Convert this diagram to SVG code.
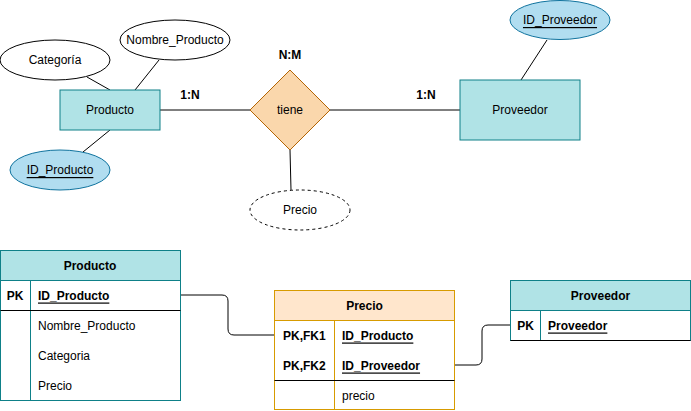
<svg xmlns="http://www.w3.org/2000/svg" width="691" height="411" viewBox="0 0 691 411">
<style>
text{font-family:"Liberation Sans",Arial,sans-serif;font-size:12px;fill:#000}
.c{text-anchor:middle;dominant-baseline:central}
.l{dominant-baseline:central}
.b{font-weight:bold}
.u{text-decoration:underline}
.ent{fill:#b0e3e6;stroke:#0e8088;stroke-width:1}
.key{fill:#b1ddf0;stroke:#10739e;stroke-width:1}
.attr{fill:#fff;stroke:#000;stroke-width:1}
.ln{fill:none;stroke:#000;stroke-width:1}
.org{fill:#ffe6cc;stroke:#d79b00;stroke-width:1}
</style>
<rect width="691" height="411" fill="#fff"/>
<g id="connectors">
<line class="ln" x1="87" y1="77" x2="110" y2="90"/>
<line class="ln" x1="159" y1="60" x2="135" y2="90"/>
<line class="ln" x1="110" y1="130" x2="83" y2="152"/>
<line class="ln" x1="160" y1="110" x2="250" y2="110"/>
<line class="ln" x1="330" y1="110" x2="460" y2="110"/>
<line class="ln" x1="290" y1="150" x2="291" y2="190"/>
<line class="ln" x1="547" y1="40" x2="521" y2="80"/>
<path class="ln" d="M180 295 H222 Q228 295 228 301 V329 Q228 335 234 335 H275"/>
<path class="ln" d="M455 365 H476 Q482 365 482 359 V331 Q482 325 488 325 H510"/>
</g>
<g id="categoria"><ellipse class="attr" cx="55" cy="60" rx="55" ry="20"/><text class="c" x="55" y="60">Categoría</text></g>
<g id="nombre_producto"><ellipse class="attr" cx="175" cy="40" rx="55" ry="20"/><text class="c" x="175" y="40">Nombre_Producto</text></g>
<g id="producto"><rect class="ent" x="60" y="90" width="100" height="40"/><text class="c" x="110" y="110">Producto</text></g>
<g id="id_producto"><ellipse class="key" cx="60" cy="170" rx="50" ry="20"/><text class="c u" x="60" y="170">ID_Producto</text></g>
<g id="tiene"><polygon points="290,70 330,110 290,150 250,110" fill="#fad7ac" stroke="#b46504"/><text class="c" x="290" y="110">tiene</text></g>
<g id="precio_attr"><ellipse class="attr" cx="300" cy="210" rx="50" ry="20" stroke-dasharray="3 3"/><text class="c" x="300" y="210">Precio</text></g>
<g id="proveedor"><rect class="ent" x="460" y="80" width="120" height="60"/><text class="c" x="520" y="110">Proveedor</text></g>
<g id="id_proveedor"><ellipse class="key" cx="560" cy="20" rx="50" ry="19.5"/><text class="c u" x="560" y="20">ID_Proveedor</text></g>
<g id="labels">
<text class="c b" x="290" y="55">N:M</text>
<text class="c b" x="190" y="95">1:N</text>
<text class="c b" x="426" y="95">1:N</text>
</g>
<g id="tabla_producto">
<rect x="0.5" y="250.5" width="180" height="150" fill="#fff" stroke="#0e8088"/>
<rect x="0.5" y="250.5" width="180" height="30" fill="#b0e3e6" stroke="#0e8088"/>
<line x1="30.5" y1="280.5" x2="30.5" y2="400.5" stroke="#0e8088"/>
<line x1="0.5" y1="310.5" x2="180.5" y2="310.5" stroke="#000"/>
<text class="c b" x="90" y="265.5">Producto</text>
<text class="c b" x="15" y="295.5">PK</text>
<text class="l b u" x="38" y="295.5">ID_Producto</text>
<text class="l" x="38" y="325.5">Nombre_Producto</text>
<text class="l" x="38" y="355.5">Categoria</text>
<text class="l" x="38" y="385.5">Precio</text>
</g>
<g id="tabla_precio">
<rect x="274.5" y="290.5" width="180" height="119" fill="#fff" stroke="#d79b00"/>
<rect x="274.5" y="290.5" width="180" height="30" class="org"/>
<line x1="334.5" y1="320.5" x2="334.5" y2="409.5" stroke="#d79b00"/>
<line x1="274.5" y1="380.5" x2="454.5" y2="380.5" stroke="#000"/>
<text class="c b" x="364.5" y="305.5">Precio</text>
<text class="l b" x="283" y="335.5">PK,FK1</text>
<text class="l b u" x="342" y="335.5">ID_Producto</text>
<text class="l b" x="283" y="365.5">PK,FK2</text>
<text class="l b u" x="342" y="365.5">ID_Proveedor</text>
<text class="l" x="342" y="395.5">precio</text>
</g>
<g id="tabla_proveedor">
<rect x="510.5" y="280.5" width="180" height="60" fill="#fff" stroke="#0e8088"/>
<rect x="510.5" y="280.5" width="180" height="30" fill="#b0e3e6" stroke="#0e8088"/>
<line x1="540.5" y1="310.5" x2="540.5" y2="340.5" stroke="#0e8088"/>
<line x1="510.5" y1="340.5" x2="690.5" y2="340.5" stroke="#000"/>
<text class="c b" x="600.5" y="295.5">Proveedor</text>
<text class="c b" x="525.5" y="325.5">PK</text>
<text class="l b u" x="548" y="325.5">Proveedor</text>
</g>
</svg>
